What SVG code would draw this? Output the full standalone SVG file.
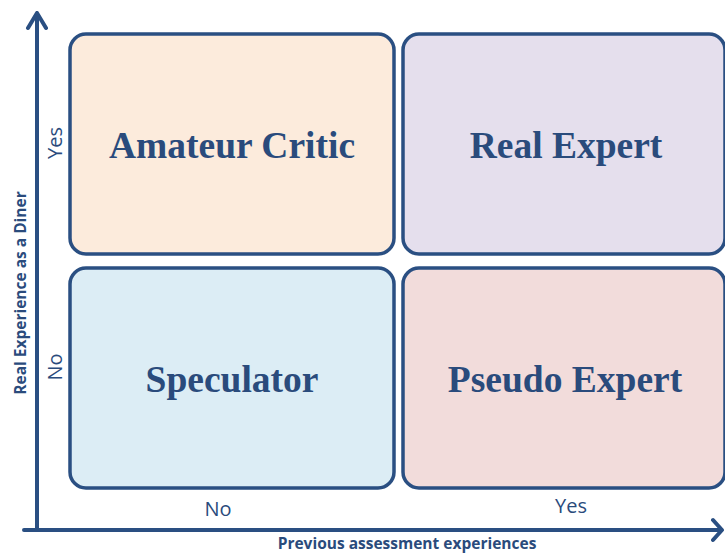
<svg xmlns="http://www.w3.org/2000/svg" width="725" height="553" viewBox="0 0 725 553">
<style>
.box{stroke:#2A4F82;stroke-width:3.5}
.q{font-family:"Liberation Serif","Times New Roman",serif;font-weight:bold;font-size:37.5px;fill:#2A4B7C;text-anchor:middle}
.tick{font-family:"Open Sans","Liberation Sans",sans-serif;font-size:20px;fill:#2A4B7C;text-anchor:middle}
.ax{font-family:"Open Sans","Liberation Sans",sans-serif;font-weight:bold;font-size:15.5px;fill:#2A4B7C;text-anchor:middle}
.axis{stroke:#2A4F82;stroke-width:4;fill:none;stroke-linecap:round;stroke-linejoin:round}
</style>
<rect width="725" height="553" fill="#fff"/>
<g id="connectors">
<path class="axis" d="M37 530 V13 M28 28 L37 13 L46 28"/>
<path class="axis" d="M24 530 H721 M713 520 L722 530 L713 540"/>
</g>
<g id="amateur-critic">
<rect class="box" x="70" y="34" width="324" height="220" rx="16" fill="#FCEBDC"/>
<text class="q" x="232" y="158">Amateur Critic</text>
</g>
<g id="real-expert">
<rect class="box" x="403" y="34" width="322" height="220" rx="16" fill="#E5DFED"/>
<text class="q" x="566" y="158">Real Expert</text>
</g>
<g id="speculator">
<rect class="box" x="70" y="268" width="324" height="220" rx="16" fill="#DCEDF5"/>
<text class="q" x="232" y="392">Speculator</text>
</g>
<g id="pseudo-expert">
<rect class="box" x="403" y="268" width="322" height="220" rx="16" fill="#F2DCDB"/>
<text class="q" x="565" y="392">Pseudo Expert</text>
</g>
<g id="labels">
<text class="tick" transform="translate(62 143) rotate(-90)">Yes</text>
<text class="tick" transform="translate(62 367) rotate(-90)">No</text>
<text class="tick" x="218" y="516">No</text>
<text class="tick" x="571" y="513">Yes</text>
<text class="ax" x="407" y="549">Previous assessment experiences</text>
<text class="ax" transform="translate(26 293) rotate(-90)">Real Experience as a Diner</text>
</g>
</svg>
